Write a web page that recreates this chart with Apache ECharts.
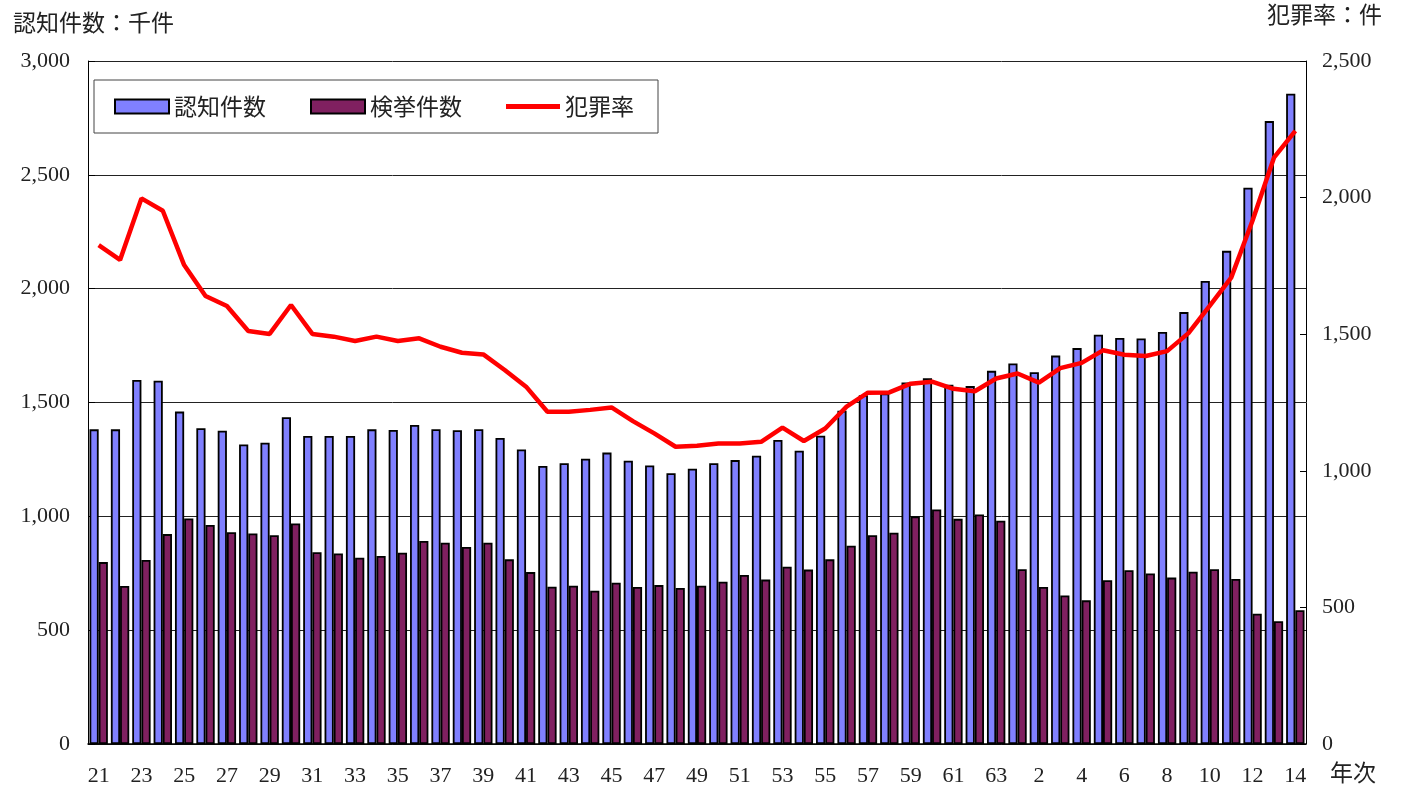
<!DOCTYPE html>
<html>
<head>
<meta charset="utf-8">
<script src="https://cdn.jsdelivr.net/npm/echarts@6/dist/echarts.min.js"></script>
<style>
  html, body { margin: 0; padding: 0; background: #fff; }
  #main { width: 1401px; height: 789px; }
</style>
</head>
<body>
<div id="main"></div>
<script>
// 年次 (昭和21〜63, 平成元〜14)
var years = ['21','22','23','24','25','26','27','28','29','30',
  '31','32','33','34','35','36','37','38','39','40',
  '41','42','43','44','45','46','47','48','49','50',
  '51','52','53','54','55','56','57','58','59','60',
  '61','62','63',
  '元','2','3','4','5','6','7','8','9','10',
  '11','12','13','14']

// 認知件数 (千件)
var ninchi = [1382,1382,1599,1596,1460,1387,1376,1316,1323,1435,
  1353,1353,1353,1382,1379,1401,1383,1378,1383,1344,
  1294,1221,1233,1253,1280,1244,1223,1189,1209,1233,
  1247,1266,1335,1288,1354,1464,1532,1540,1588,1606,
  1578,1572,1639,
  1671,1633,1706,1739,1798,1783,1781,1810,1897,2034,
  2166,2443,2736,2856]

// 検挙件数 (千件)
var kenkyo = [799,694,808,922,991,962,930,925,917,969,
  842,837,818,826,840,892,884,865,884,811,
  755,691,695,673,708,690,698,685,695,713,
  742,722,779,766,811,871,917,928,1000,1030,
  989,1008,981,
  768,690,652,631,719,763,749,731,757,768,
  725,572,539,588]

// 犯罪率 (件)
var hanzairitsu = [1826,1772,1997,1952,1753,1640,1603,1512,1501,1607,
  1501,1491,1475,1491,1475,1485,1454,1432,1426,1369,
  1308,1216,1216,1223,1232,1182,1137,1088,1092,1100,
  1100,1106,1158,1109,1155,1235,1286,1287,1319,1326,
  1300,1291,1338,
  1356,1323,1376,1395,1441,1425,1420,1438,1504,1605,
  1707,1916,2146,2244]

var numFont = '"Liberation Serif", "Noto Sans CJK JP", serif'
var jpFont = '"Noto Sans CJK JP", sans-serif'

function comma(v) {
  return String(v).replace(/\B(?=(\d{3})+(?!\d))/g, ',')
}

var chart = echarts.init(document.getElementById('main'))
chart.setOption({
  backgroundColor: '#fff',
  animation: false,
  title: [
    { text: '認知件数：千件', left: 8, top: 6,
      textStyle: { fontFamily: jpFont, fontSize: 23, fontWeight: 'normal', color: '#222' } },
    { text: '犯罪率：件', right: 14, top: -2,
      textStyle: { fontFamily: jpFont, fontSize: 23, fontWeight: 'normal', color: '#222' } }
  ],
  graphic: [
    { type: 'text', left: 1330, top: 761,
      style: { text: '年次', font: '23px "Noto Sans CJK JP"', fill: '#222' } }
  ],
  legend: {
    left: 94, top: 80,
    padding: [15, 24, 15, 20],
    backgroundColor: '#fff',
    borderColor: '#444', borderWidth: 1,
    itemWidth: 54, itemHeight: 14, itemGap: 44,
    textStyle: { fontFamily: jpFont, fontSize: 23, color: '#222' },
    data: [
      { name: '認知件数', icon: 'rect' },
      { name: '検挙件数', icon: 'rect' },
      { name: '犯罪率', icon: 'path://M0,0 H54 V5 H0 Z',
        itemStyle: { color: '#ff0000', borderWidth: 0 } }
    ]
  },
  grid: { left: 88, right: 95, top: 61, bottom: 45 },
  xAxis: {
    type: 'category',
    data: years,
    axisLine: { lineStyle: { color: '#000', width: 1.5 } },
    axisTick: { inside: true, length: 5, lineStyle: { color: '#888' } },
    axisLabel: { interval: 1, margin: 21, fontFamily: numFont, fontSize: 22, color: '#222' }
  },
  yAxis: [
    {
      type: 'value', min: 0, max: 3000, interval: 500,
      axisLine: { show: true, lineStyle: { color: '#000' } },
      axisTick: { show: true, inside: true, length: 7, lineStyle: { color: '#000' } },
      axisLabel: { margin: 18, fontFamily: numFont, fontSize: 22, color: '#222', formatter: comma },
      splitLine: { show: true, lineStyle: { color: '#222', width: 1 } }
    },
    {
      type: 'value', min: 0, max: 2500, interval: 500, position: 'right',
      axisLine: { show: true, lineStyle: { color: '#000' } },
      axisTick: { show: true, inside: true, length: 6, lineStyle: { color: '#000' } },
      axisLabel: { margin: 16, fontFamily: numFont, fontSize: 22, color: '#222', formatter: comma },
      splitLine: { show: false }
    }
  ],
  series: [
    {
      name: '認知件数', type: 'bar', yAxisIndex: 0,
      data: ninchi,
      barGap: '0%', barCategoryGap: '14%',
      itemStyle: { color: '#8080ff', borderColor: '#000', borderWidth: 1.8 }
    },
    {
      name: '検挙件数', type: 'bar', yAxisIndex: 0,
      data: kenkyo,
      barGap: '0%', barCategoryGap: '14%',
      itemStyle: { color: '#802060', borderColor: '#000', borderWidth: 1.8 }
    },
    {
      name: '犯罪率', type: 'line', yAxisIndex: 1,
      data: hanzairitsu,
      symbol: 'none',
      lineStyle: { color: '#ff0000', width: 4.5 },
      itemStyle: { color: '#ff0000' },
      z: 5
    }
  ]
})
</script>
</body>
</html>
